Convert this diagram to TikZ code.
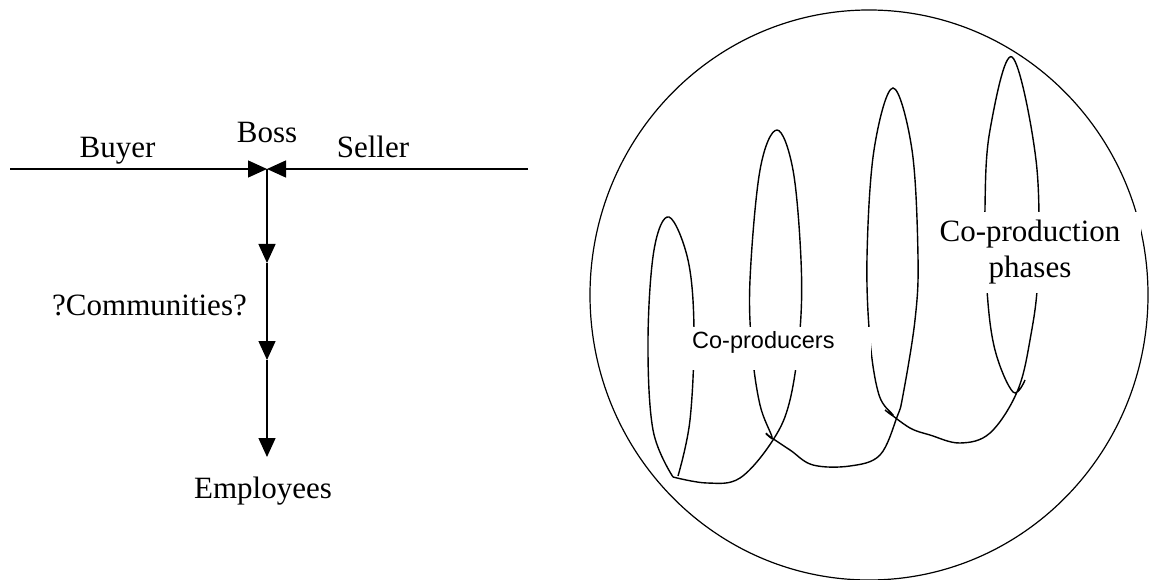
\documentclass[tikz,border=0pt]{standalone}
\usepackage{fontspec}
\setmainfont{Liberation Serif}
\newfontfamily\arialf{Liberation Sans}
\usetikzlibrary{arrows.meta,shapes.geometric}
\tikzset{
  ln/.style={line width=1.4pt, black},
  tip/.style={-{Triangle[length=19pt,width=17pt]}},
  lbl/.style={font=\fontsize{31}{35}\selectfont, inner sep=0pt},
  slbl/.style={font=\arialf\fontsize{23.5}{27}\selectfont, inner sep=0pt},
  coil/.style={line width=1.4pt, black}
}
\begin{document}
\begin{tikzpicture}[x=1pt,y=-1pt]
\useasboundingbox (0,0) rectangle (1149,580);
% left part
\coordinate (L) at (10,169);
\coordinate (R) at (528,169);
\coordinate (J) at (267,169);
\coordinate (m1) at (267,263);
\coordinate (m2) at (267,360);
\coordinate (E) at (267,457);
\draw[ln,tip] (L) -- (J);
\draw[ln,tip] (R) -- (J);
\draw[ln,tip] (J) -- (m1);
\draw[ln,tip] (m1) -- (m2);
\draw[ln,tip] (m2) -- (E);
\node[lbl, anchor=base] (buyer) at (117.5,158) {Buyer};
\node[lbl, anchor=base] (boss) at (267,143) {Boss};
\node[lbl, anchor=base] (seller) at (373,158) {Seller};
\node[lbl, anchor=base east] (comm) at (247,315) {?Communities?};
\node[lbl, anchor=base] (emp) at (263,498) {Employees};
% right part
\node[draw, ellipse, line width=1.2pt, minimum width=558pt, minimum height=570pt, inner sep=0pt] (circ) at (869,295) {};
\draw[coil] plot[smooth, tension=0.6] coordinates {
 (678,476) (690,420) (694,330) (688,260) (669,217) (654,250) (648,340) (653,430) (673,477)};
\draw[coil] plot[smooth, tension=0.6] coordinates {
 (673,477) (707,483) (740,478) (773,440) (790,400) (800,330) (801,260) (793,170) (777,130) (760,170) (750,280) (752,350) (760,405) (772,437) (766,433)};
\draw[coil] plot[smooth, tension=0.6] coordinates {
 (766,434) (790,450) (813,465) (850,466) (880,455) (897,417) (903,395) (915,320) (918,257) (912,150) (893,88) (874,150) (867,257) (870,340) (879,395) (893,415) (885,410)};
\draw[coil] plot[smooth, tension=0.6] coordinates {
 (888,412) (910,428) (930,435) (960,443) (990,433) (1017,392) (1030,340) (1038,273) (1036,160) (1012,57) (990,130) (985,207) (987,290) (995,350) (1013,392) (1025,380)};
% white text boxes
\fill[white] (685,327) rectangle (871,370);
\fill[white] (924,212) rectangle (1141,293);
\node[slbl, anchor=base west] (cp) at (692,348) {Co-producers};
\node[lbl, anchor=base] (cph1) at (1030,242) {Co-production};
\node[lbl, anchor=base] (cph2) at (1030,277) {phases};
\end{tikzpicture}
\end{document}
